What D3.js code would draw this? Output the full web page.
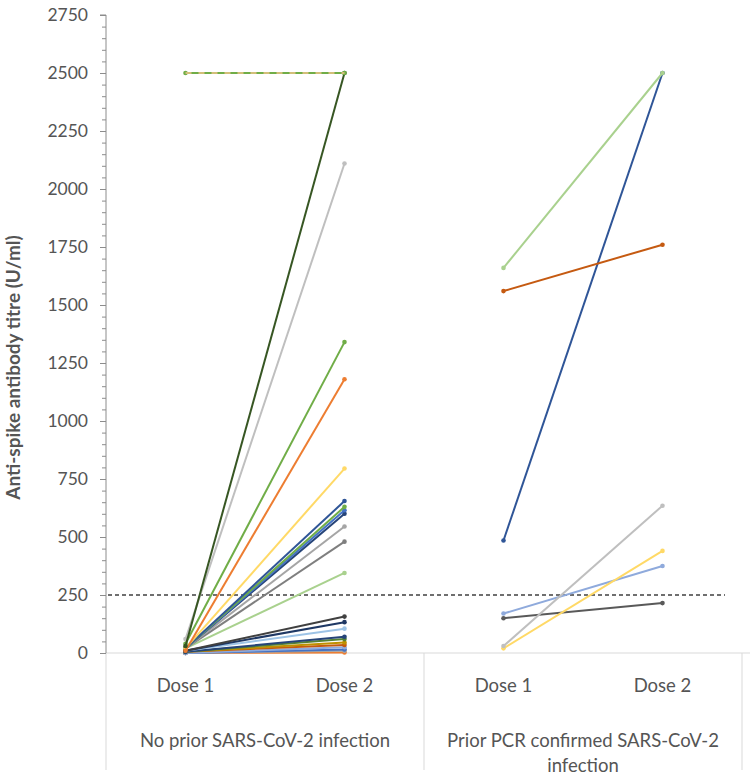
<!DOCTYPE html>
<html>
<head>
<meta charset="utf-8">
<script src="https://cdn.jsdelivr.net/npm/d3@7"></script>
<style>
  html, body { margin: 0; padding: 0; background: #fff; }
  svg { display: block; }
  text { font-family: Lato, "Open Sans", sans-serif; }
</style>
</head>
<body>
<svg id="chart" width="750" height="779"></svg>
<script>
// ---- Data ----
const categories = ["Dose 1", "Dose 2"];
const groups = ["No prior SARS-CoV-2 infection", "Prior PCR confirmed SARS-CoV-2 infection"];
const yTicks = [0, 250, 500, 750, 1000, 1250, 1500, 1750, 2000, 2250, 2500, 2750];
const threshold = 250;

// Group 1: no prior infection (dose 1, dose 2)
const noPriorDose1 = [0, 0, 0, 0, 5, 5, 5, 5, 10, 10, 10, 20, 20, 20, 20, 20, 20, 20, 20, 10, 40, 60, 30, 2500];
const noPriorDose2 = [2, 10, 15, 25, 35, 45, 60, 70, 105, 133, 157, 345, 480, 545, 600, 615, 630, 655, 795, 1180, 1340, 2110, 2500, 2500];
const noPriorColors = ["#ED7D31", "#A5A5A5", "#4472C4", "#8FAADC", "#C55A11", "#BF9000", "#548235", "#264478",
  "#9DC3E6", "#1F3864", "#404040", "#A9D18E", "#7F7F7F", "#A5A5A5", "#264478", "#4472C4", "#70AD47", "#2F5597",
  "#FFD966", "#ED7D31", "#70AD47", "#BFBFBF", "#375623", "#70AD47"];

// Group 2: prior PCR-confirmed infection (dose 1, dose 2)
const priorDose1 = [150, 170, 20, 30, 485, 1560, 1660];
const priorDose2 = [215, 375, 440, 635, 2500, 1760, 2500];
const priorColors = ["#595959", "#8FAADC", "#FFD966", "#BFBFBF", "#2F5597", "#C55A11", "#A9D18E"];

// ---- Layout ----
const svg = d3.select("#chart");
const plotLeft = 106, plotRight = 742, plotTop = 15, plotBottom = 653;
const textColor = "#555555";

const xKeys = ["g0d0", "g0d1", "g1d0", "g1d1"];
const x = d3.scaleBand().domain(xKeys).range([plotLeft, plotRight]).paddingInner(0).paddingOuter(0);
const cx = k => x(k) + x.bandwidth() / 2;
const y = d3.scaleLinear().domain([0, 2750]).range([plotBottom, plotTop]);

// Category frame (below axis)
const frameColor = "#D9D9D9";
svg.append("line").attr("x1", plotLeft).attr("x2", plotRight + 8).attr("y1", plotBottom).attr("y2", plotBottom)
  .attr("stroke", frameColor).attr("stroke-width", 1);
[plotLeft, x("g1d0"), plotRight].forEach(xx => {
  svg.append("line").attr("x1", xx).attr("x2", xx).attr("y1", plotBottom).attr("y2", 770)
    .attr("stroke", frameColor).attr("stroke-width", 1);
});

// Y axis with minor ticks
const minorTicks = d3.range(0, 2751, 50).filter(v => v % 250 !== 0);
svg.append("g").attr("transform", `translate(${plotLeft},0)`)
  .call(d3.axisLeft(y).tickValues(minorTicks).tickSize(4).tickFormat(""))
  .call(g => g.select(".domain").remove())
  .call(g => g.selectAll("line").attr("stroke", "#8C8C8C"));
const yAxis = svg.append("g").attr("transform", `translate(${plotLeft},0)`)
  .call(d3.axisLeft(y).tickValues(yTicks).tickSize(6).tickPadding(12).tickFormat(d3.format("d")));
yAxis.select(".domain").attr("stroke", "#8C8C8C").attr("d", `M-6,${plotTop}H0V${plotBottom}`);
yAxis.selectAll(".tick line").attr("stroke", "#8C8C8C");
yAxis.selectAll(".tick text").attr("fill", textColor).style("font-size", "17.5px")
  .style("font-family", "Lato, 'Open Sans', sans-serif");

// Y axis title
svg.append("text")
  .attr("transform", `translate(20,${(210 + 525) / 2}) rotate(-90)`)
  .attr("text-anchor", "middle")
  .attr("fill", textColor).style("font-size", "19px").style("font-weight", "bold")
  .text("Anti-spike antibody titre (U/ml)");

// X labels
xKeys.forEach((k, i) => {
  svg.append("text").attr("x", cx(k)).attr("y", 692).attr("text-anchor", "middle")
    .attr("fill", textColor).style("font-size", "18.5px").text(categories[i % 2]);
});
const g0c = (plotLeft + x("g1d0")) / 2, g1c = (x("g1d0") + plotRight) / 2;
svg.append("text").attr("x", g0c).attr("y", 747).attr("text-anchor", "middle")
  .attr("fill", textColor).style("font-size", "18.5px").text(groups[0]);
const g2words = groups[1].split(" ");
svg.append("text").attr("x", g1c).attr("y", 747).attr("text-anchor", "middle")
  .attr("fill", textColor).style("font-size", "18.5px").text(g2words.slice(0, 4).join(" "));
svg.append("text").attr("x", g1c).attr("y", 772).attr("text-anchor", "middle")
  .attr("fill", textColor).style("font-size", "18.5px").text(g2words.slice(4).join(" "));

// Threshold line
svg.append("line").attr("x1", plotLeft + 2).attr("x2", 725).attr("y1", y(threshold)).attr("y2", y(threshold))
  .attr("stroke", "#404040").attr("stroke-width", 1.5).attr("stroke-dasharray", "4,3");

// Series
function drawSeries(d1, d2, colors, k1, k2) {
  d1.forEach((v, i) => {
    const pts = [[cx(k1), y(v)], [cx(k2), y(d2[i])]];
    const g = svg.append("g");
    g.append("path").attr("d", d3.line()(pts)).attr("fill", "none")
      .attr("stroke", colors[i]).attr("stroke-width", 2);
    pts.forEach(p => g.append("circle").attr("cx", p[0]).attr("cy", p[1]).attr("r", 2.3).attr("fill", colors[i]));
  });
}
drawSeries(noPriorDose1, noPriorDose2, noPriorColors, "g0d0", "g0d1");
drawSeries(priorDose1, priorDose2, priorColors, "g1d0", "g1d1");

// Overlapping dashed series on the flat 2500 line
svg.append("path")
  .attr("d", d3.line()([[cx("g0d0"), y(2500)], [cx("g0d1"), y(2500)]]))
  .attr("fill", "none").attr("stroke", "#F4C58C").attr("stroke-width", 1.4).attr("stroke-dasharray", "6,7");
</script>
</body>
</html>
